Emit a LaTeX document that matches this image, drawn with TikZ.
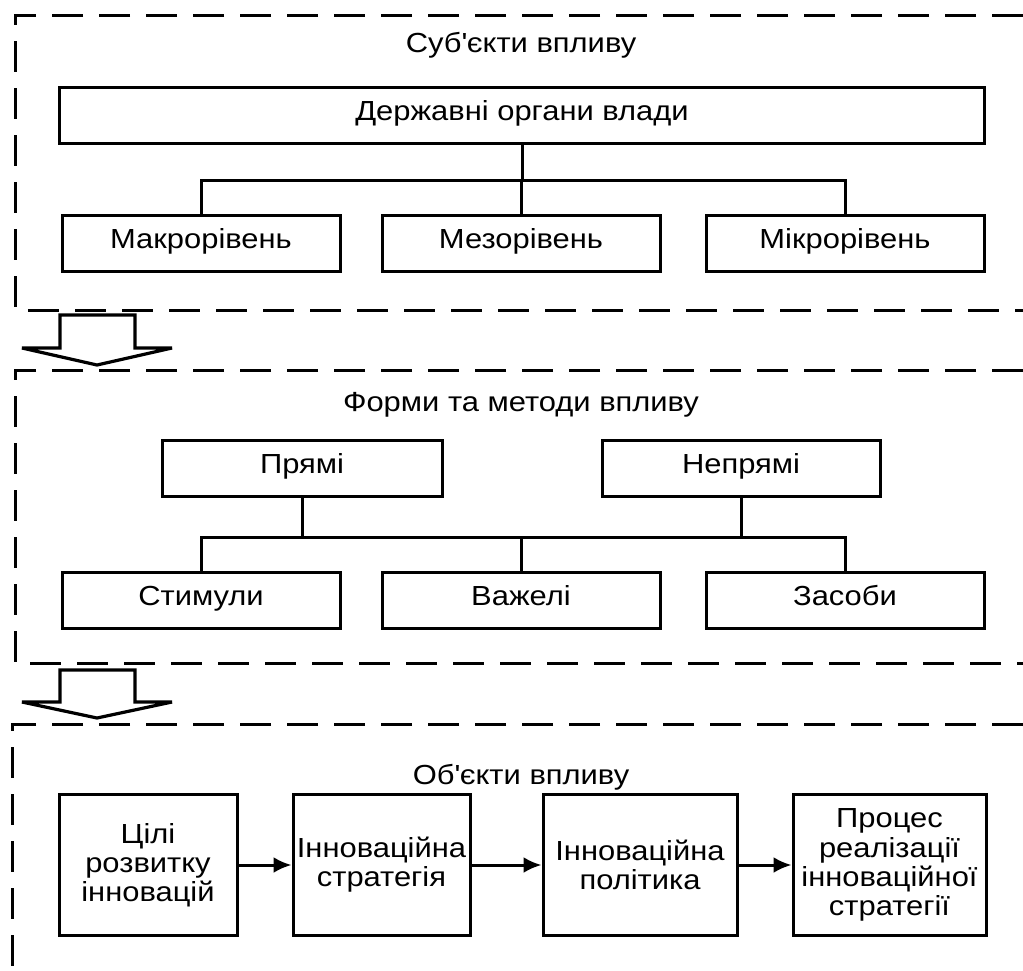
\documentclass[tikz,border=0pt]{standalone}
\usepackage{fontspec}
\setmainfont{Liberation Sans}[FakeStretch=1.12]
\usetikzlibrary{arrows.meta}
\def\ap{\textquotesingle}

\begin{document}
\begin{tikzpicture}[x=0.5pt,y=-0.5pt,
    every node/.style={font=\fontsize{13.8}{14.6}\selectfont,align=center},
    box/.style={draw,line width=1.5pt,inner sep=0pt,minimum height=28pt},
    one/.style={box,text height=0.72em,text depth=0.22em},
    area/.style={line width=1.5pt,dash pattern=on 15.5pt off 8pt},
    link/.style={line width=1.5pt},
    flow/.style={line width=1.5pt,-{Latex[length=9pt,width=8pt]}},
    bigarrow/.style={draw,line width=1.6pt,fill=white,line join=miter,miter limit=2}]
    \useasboundingbox (0,0) rectangle (1023,970);

    % субєкти
    \draw[area] (1023,15) -- (15,15) -- (15,310) -- (1023,310);
    \node (t1) at (521,45) {Суб\ap єкти впливу};
    \node[one,minimum width=462.5pt] (org) at (522,115) {Державні органи влади};
    \node[one,minimum width=139pt] (macro) at (201,243) {Макрорівень};
    \node[one,minimum width=139pt] (meso) at (521,243) {Мезорівень};
    \node[one,minimum width=139pt] (micro) at (845,243) {Мікрорівень};
    \coordinate (j1) at (522,180);
    \draw[link] (org) -- (j1);
    \draw[link] (macro) |- (j1) -| (micro);
    \draw[link] (meso) -- (meso |- j1);

    \draw[bigarrow] (60,315) -- (135,315) -- (135,348) -- (172,348) -- (97,365)
        -- (22,348) -- (60,348) -- cycle;

    % форми та методи
    \draw[area] (1023,370) -- (15,370) -- (15,663) -- (1023,663);
    \node (t2) at (521,405) {Форми та методи впливу};
    \node[one,minimum width=140pt] (direct) at (302,468) {Прямі};
    \node[one,minimum width=139pt] (indirect) at (741,468) {Непрямі};
    \node[one,minimum width=139pt] (stim) at (201,600) {Стимули};
    \node[one,minimum width=139pt] (lever) at (521,600) {Важелі};
    \node[one,minimum width=139pt] (means) at (845,600) {Засоби};
    \coordinate (j2) at (521,537);
    \draw[link] (stim) |- (j2) -| (means);
    \draw[link] (lever) -- (j2);
    \draw[link] (direct) -- (direct |- j2);
    \draw[link] (indirect) -- (indirect |- j2);

    \draw[bigarrow] (60,670) -- (135,670) -- (135,702) -- (172,702) -- (97,718)
        -- (22,702) -- (60,702) -- cycle;

    % обєкти
    \draw[area] (1023,724) -- (12,724) -- (12,975);
    \node (t3) at (521,777) {Об\ap єкти впливу};
    \begin{scope}[every node/.append style={box,minimum height=70.5pt}]
      \node[minimum width=89pt] (goal) at (148,865) {Цілі\\розвитку\\інновацій};
      \node[minimum width=88.5pt] (strat) at (381.5,865) {Інноваційна\\стратегія};
      \node[minimum width=97pt] (pol) at (640,865) {Інноваційна\\політика};
      \node[minimum width=96.5pt] (proc) at (889.5,865) {Процес\\реалізації\\інноваційної\\стратегії};
    \end{scope}
    \draw[flow] (goal) -- (strat);
    \draw[flow] (strat) -- (pol);
    \draw[flow] (pol) -- (proc);
\end{tikzpicture}
\end{document}
